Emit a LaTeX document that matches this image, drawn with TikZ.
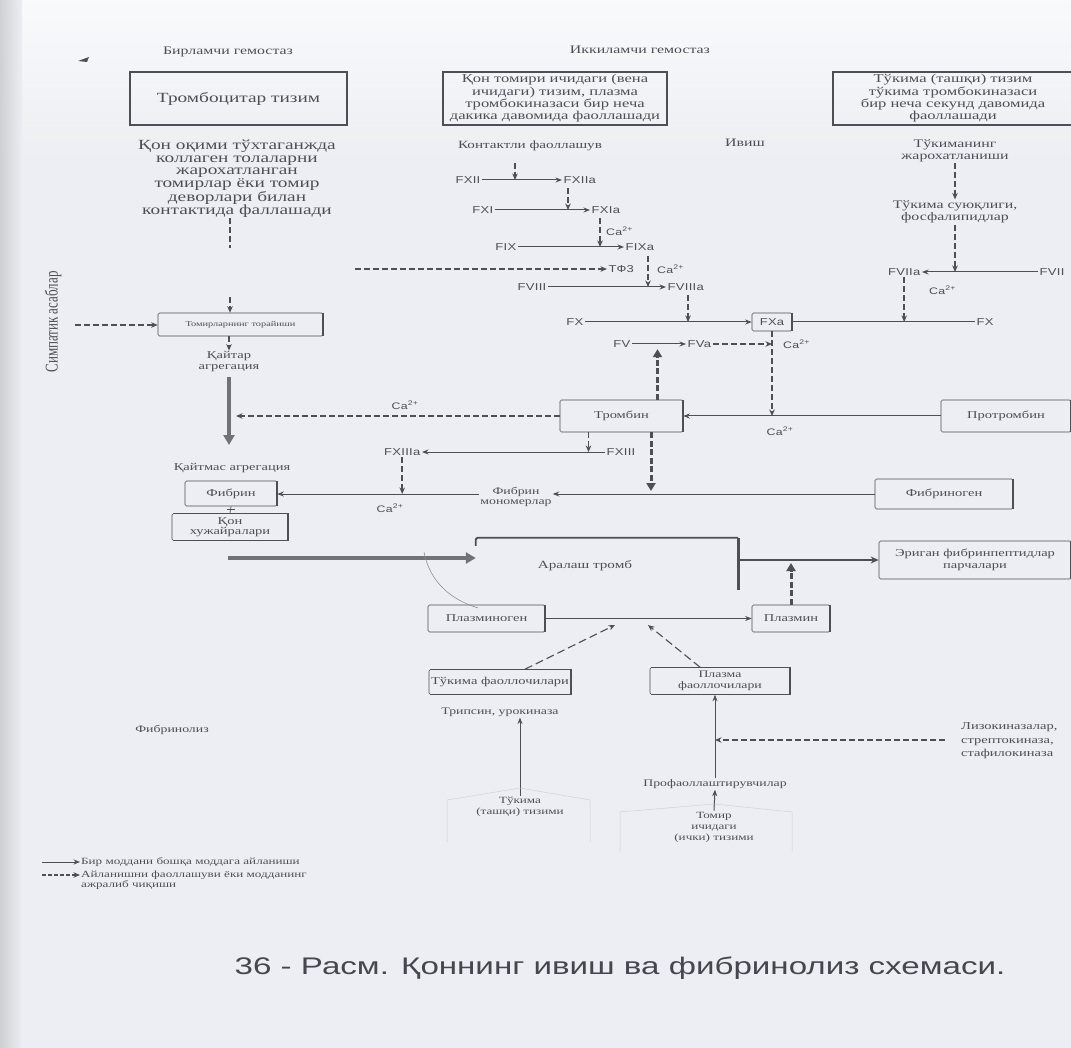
\documentclass[tikz,border=0pt]{standalone}
\usepackage{fontspec}
\usepackage{graphicx}
\usetikzlibrary{arrows.meta}
\newfontfamily\sr[FakeStretch=1.38]{Liberation Serif}
\newfontfamily\srn{Liberation Serif}
\newfontfamily\ssf[FakeStretch=1.3,LetterSpace=3]{Liberation Sans}
\newfontfamily\capf[FakeStretch=1.38]{Liberation Sans}
\definecolor{bg}{RGB}{236,238,243}
\definecolor{tc}{RGB}{78,78,86}
\definecolor{lc}{RGB}{78,78,86}
\definecolor{fc}{RGB}{208,209,216}
\newcommand{\fsz}[2]{\fontsize{#1}{#2}\selectfont}
\newcommand{\cax}{Ca\textsuperscript{2+}}
\tikzset{
  txt/.style={text=tc, inner sep=1pt, align=center},
  fl/.style={text=tc, font=\ssf\fsz{10}{11}, inner sep=1.5pt},
  cal/.style={text=tc, font=\ssf\fsz{9.5}{10}, inner sep=1pt},
  bigbox/.style={draw=lc, line width=1.3pt, inner sep=2pt, align=center, text=tc},
  sbox/.style={draw=lc, line width=0.6pt, rounded corners=1.5pt, align=center, text=tc, inner sep=2pt, font=\sr\fsz{10.5}{11}},
  sol/.style={draw=lc, line width=1pt, -{Stealth[length=6.5pt,width=5pt]}},
  dsh/.style={draw=lc, line width=1.5pt, dash pattern=on 6pt off 3pt, -{Stealth[length=6.5pt,width=5.5pt]}},
  dln/.style={draw=lc, line width=1.5pt, dash pattern=on 6pt off 3pt},
  thd/.style={draw=lc, line width=3pt, dash pattern=on 6pt off 2.5pt, -{Triangle[length=8pt,width=9pt]}},
  bigar/.style={draw=lc!80, line width=3.5pt, -{Triangle[length=10pt,width=11pt]}},
  faint/.style={draw=fc, line width=0.5pt},
  redge/.style={draw=lc, line width=2.2pt},
}
\begin{document}
\begin{tikzpicture}[x=1pt,y=-1pt]
\useasboundingbox (0,0) rectangle (1071,1048);
\fill[bg] (0,0) rectangle (1071,1048);
\shade[top color=white!70!bg, bottom color=bg] (0,0) rectangle (1071,160);
\shade[left color=gray!30!bg, right color=bg, opacity=0.9] (0,0) rectangle (22,1048);

% headings
\node[txt, font=\sr\fsz{11.5}{13}] (h1) at (228,52) {Бирламчи гемостаз};
\node[txt, font=\sr\fsz{11.5}{13}] (h2) at (640,50) {Иккиламчи гемостаз};
\fill[lc] (78,61) -- (89,57) -- (87,62) -- cycle;

% top boxes
\node[bigbox, minimum width=217pt, minimum height=53pt, font=\sr\fsz{14}{16}] (b1) at (238.5,98.5) {Тромбоцитар тизим};
\node[bigbox, minimum width=224pt, minimum height=53pt, font=\sr\fsz{12}{12.3}] (b2) at (555,98.5) {Қон томири ичидаги (вена\\ичидаги) тизим, плазма\\тромбокиназаси бир неча\\дакика давомида фаоллашади};
\node[bigbox, minimum width=240pt, minimum height=53pt, font=\sr\fsz{12}{12.3}] (b3) at (953,98.5) {Тўкима (ташқи) тизим\\тўкима тромбокиназаси\\бир неча секунд давомида\\фаоллашади};

% left column
\node[txt, font=\sr\fsz{14}{12.4}] (lb) at (237,179) {Қон оқими тўхтаганжда\\коллаген толаларни\\жарохатланган\\томирлар ёки томир\\деворлари билан\\контактида фаллашади};
\coordinate (lv1) at (230,218);
\coordinate (lv2) at (230,248);
\draw[dln] (lv1) -- (lv2);
\node[sbox, font=\sr\fsz{7.5}{8}, minimum width=165pt, minimum height=23pt] (tt) at (240.5,324.5) {Томирларнинг торайиши};
\coordinate (lv3) at (230,297);
\draw[dsh] (lv3) -- (lv3 |- tt.north);
\node[txt, font=\srn\fsz{13}{14}, rotate=90] (sim) at (53,322) {\scalebox{1}[1.38]{Симпатик асаблар}};
\coordinate (sa) at (75,325);
\draw[dsh] (sa) -- (tt.west |- sa);
\node[txt, font=\sr\fsz{10.5}{11}] (qa) at (229,362) {Қайтар\\агрегация};
\draw[dsh] (tt.south -| qa) -- (qa.north);
\coordinate (kb) at (229,445);
\draw[bigar] ([yshift=-4pt]qa.south) -- (kb);
\node[txt, font=\sr\fsz{10.5}{11}] (qm) at (232,468) {Қайтмас агрегация};

% contact activation
\node[txt, font=\sr\fsz{11}{12}] (kf) at (530,146) {Контактли фаоллашув};
\node[txt, font=\sr\fsz{11.5}{12}] (iv) at (745,143) {Ивиш};
\node[fl, anchor=east] (fxii) at (482,180) {FXII};
\node[fl, anchor=west] (fxiia) at (562,180) {FXIIa};
\draw[sol] (fxii.east) -- (fxiia.west);
\coordinate (c1) at (515,163);
\draw[dsh] (c1) -- (c1 |- fxii);
\node[fl, anchor=east] (fxi) at (495,210) {FXI};
\node[fl, anchor=west] (fxia) at (590,210) {FXIa};
\draw[sol] (fxi.east) -- (fxia.west);
\coordinate (c2) at (568,188);
\draw[dsh] (c2) -- (c2 |- fxi);
\node[fl, anchor=east] (fix) at (518,247) {FIX};
\node[fl, anchor=west] (fixa) at (624,247) {FIXa};
\draw[sol] (fix.east) -- (fixa.west);
\coordinate (c3) at (600,218);
\draw[dsh] (c3) -- (c3 |- fix);
\node[cal, anchor=west] (ca1) at (605,231) {\cax};
\node[fl, anchor=west] (tf3) at (607,269) {ТФ3};
\coordinate (tfs) at (355,269);
\draw[dsh] (tfs) -- (tf3.west);
\node[cal, anchor=west] (ca2) at (656,269) {\cax};
\node[fl, anchor=east] (fviii) at (548,287) {FVIII};
\node[fl, anchor=west] (fviiia) at (666,287) {FVIIIa};
\draw[sol] (fviii.east) -- (fviiia.west);
\coordinate (c4) at (648,256);
\draw[dsh] (c4) -- (c4 |- fviii);
\node[fl, anchor=east] (fx) at (585,322) {FX};
\node[sbox, font=\ssf\fsz{10}{11}, minimum width=40pt, minimum height=18pt] (fxa) at (772,322) {FXa};
\node[fl, anchor=west] (fx2) at (975,322) {FX};
\draw[sol] (fx.east) -- (fxa.west);
\draw[draw=lc, line width=1pt] (fxa.east) -- (fx2.west);
\coordinate (c5) at (688,295);
\draw[dsh] (c5) -- (c5 |- fx);

% tissue pathway
\node[txt, font=\sr\fsz{11.5}{12}] (tj) at (955,151) {Тўкиманинг\\жарохатланиши};
\node[txt, font=\sr\fsz{11.5}{12.5}] (ts) at (955,212) {Тўкима суюқлиги,\\фосфалипидлар};
\draw[dsh] (tj.south) -- (ts.north);
\node[fl, anchor=east] (fviia) at (922,272) {FVIIa};
\node[fl, anchor=west] (fvii) at (1038,272) {FVII};
\draw[sol] (fvii.west) -- (fviia.east);
\draw[dsh] (ts.south) -- (ts.south |- fviia);
\draw[dsh] (fviia.south) -- (fviia.south |- fx2);
\node[cal, anchor=west] (ca5) at (928,290) {\cax};

% thrombin
\node[sbox, minimum width=123pt, minimum height=32pt] (tromb) at (621.5,416) {Тромбин};
\node[sbox, minimum width=130pt, minimum height=32pt] (prot) at (1006,416) {Протромбин};
\draw[sol] (prot.west) -- (tromb.east);
\node[cal] (ca7) at (780,431) {\cax};
\node[fl, anchor=east] (fv) at (632,344) {FV};
\node[fl, anchor=west] (fva) at (686,344) {FVa};
\draw[sol] (fv.east) -- (fva.west);
\draw[dsh] (fva.east) -- (fva.east -| fxa.south);
\draw[dsh] (fxa.south) -- (fxa.south |- tromb.east);
\node[cal, anchor=west] (ca6) at (782,344) {\cax};
\coordinate (tu1) at ([xshift=36pt]tromb.north);
\draw[thd] (tu1) -- (tu1 |- fva.south);
\coordinate (kl) at (236,416);
\draw[dsh] (tromb.west) -- (kl);
\node[cal] (ca8) at (405,405) {\cax};

% FXIII and fibrin
\node[fl, anchor=west] (fxiii) at (605,452) {FXIII};
\node[fl, anchor=east] (fxiiia) at (422,452) {FXIIIa};
\draw[sol] (fxiii.west) -- (fxiiia.east);
\coordinate (td1) at ([xshift=-33pt]tromb.south);
\draw[dsh] (td1) -- (td1 |- fxiii);
\coordinate (td2) at ([xshift=29.5pt]tromb.south);
\coordinate (td3) at (651,491);
\draw[thd] (td2) -- (td3);
\node[txt, font=\sr\fsz{10}{10.5}] (mono) at (516,497) {Фибрин\\мономерлар};
\node[sbox, minimum width=138pt, minimum height=30pt] (fibg) at (944,494) {Фибриноген};
\draw[sol] (fibg.west) -- (fibg.west -| mono.east);
\node[sbox, minimum width=92pt, minimum height=25pt] (fibr) at (231,493.5) {Фибрин};
\draw[sol] (fibg.west -| mono.west) -- (fibg.west -| fibr.east);
\draw[dsh] (fxiiia.south) -- (fxiiia.south |- fibg.west);
\node[cal] (ca9) at (390,508) {\cax};
\node[sbox, minimum width=116pt, minimum height=27pt, font=\sr\fsz{10.5}{10}] (qon) at (230,527) {Қон\\хужайралари};
\draw[lc, line width=0.7pt] (fibr.south) -- (qon.north);
\coordinate (fq) at (231,509);
\draw[lc, line width=0.7pt] ([xshift=-4pt]fq) -- ([xshift=4pt]fq);

% clot
\node[minimum width=262pt, minimum height=52pt, inner sep=0pt] (arr) at (607,564) {};
\node[txt, font=\sr\fsz{11}{12}] (arrt) at (585,566) {Аралаш тромб};
\draw[lc, line width=1.8pt, rounded corners=2pt] ([yshift=-8pt]arr.north west) -- (arr.north west) -- (arr.north east);
\draw[lc, line width=3pt] (arr.north east) -- (arr.south east);
\coordinate (ba) at (228,558);
\draw[bigar] (ba) -- (ba -| arr.west);
\node[sbox, font=\sr\fsz{10.5}{12}, minimum width=192pt, minimum height=38pt] (eri) at (975,560) {Эриган фибринпептидлар\\парчалари};
\draw[draw=lc, line width=1.8pt, -{Stealth[length=8pt,width=7pt]}] (arr.east |- eri.west) -- (eri.west);

% fibrinolysis
\node[sbox, minimum width=117pt, minimum height=27pt] (plg) at (486.5,618.5) {Плазминоген};
\node[sbox, minimum width=78pt, minimum height=27pt] (plm) at (791,618.5) {Плазмин};
\draw[sol] (plg.east) -- (plm.west);
\draw[thd, shorten >=3pt] (plm.north) -- (plm.north |- eri.west);
\coordinate (cv1) at (424,552);
\coordinate (cv2) at (478,608);
\draw[lc!70, line width=0.5pt] (cv1) .. controls (430,583) and (452,600) .. (cv2);
\node[sbox, minimum width=136pt, minimum height=25pt] (tfa) at (500,682) {Тўкима фаоллочилари};
\node[sbox, minimum width=140pt, minimum height=27pt, font=\sr\fsz{10}{10.5}] (pfa) at (720,681) {Плазма\\фаоллочилари};
\coordinate (j1) at (615,625);
\coordinate (j2) at (648,625);
\draw[dsh, dash pattern=on 8pt off 4pt, line width=1.1pt] ([xshift=25pt]tfa.north) -- (j1);
\draw[dsh, dash pattern=on 8pt off 4pt, line width=1.1pt] ([xshift=-20pt]pfa.north) -- (j2);
\node[txt, font=\sr\fsz{10}{10}] (trip) at (500,712) {Трипсин, урокиназа};
\node[txt, font=\sr\fsz{9.5}{11}] (tts) at (520,807) {Тўкима\\(ташқи) тизими};
\draw[sol] (tts.north) -- (tts.north |- trip.south);
\draw[faint] (447,842) -- (447,800) -- (520,788) -- (590,800) -- (590,842);
\node[txt, font=\sr\fsz{10}{10}] (prof) at (715,784) {Профаоллаштирувчилар};
\draw[sol] (prof.north) -- (prof.north |- pfa.south);
\coordinate (lz) at (945,740);
\draw[dsh] (lz) -- (lz -| prof.north);
\node[txt, font=\sr\fsz{10.5}{13.5}, align=left, anchor=west] (liz) at (960,741) {Лизокиназалар,\\стрептокиназа,\\стафилокиназа};
\node[txt, font=\sr\fsz{9.5}{11}] (tom) at (714,827) {Томир\\ичидаги\\(ички) тизими};
\draw[sol] (tom.north) -- (prof.south);
\draw[faint] (620,852) -- (620,812) -- (714,804) -- (792,812) -- (792,852);
\node[txt, font=\sr\fsz{10}{10}] (fbl) at (172,730) {Фибринолиз};

% legend
\coordinate (l1) at (42,862);
\node[txt, anchor=west, font=\sr\fsz{9.5}{10}] (lg1) at (80,862) {Бир моддани бошқа моддага айланиши};
\draw[sol] (l1) -- (lg1.west);
\coordinate (l2) at (42,875);
\node[txt, anchor=west, align=left, font=\sr\fsz{9.5}{10}] (lg2) at (80,880) {Айланишни фаоллашуви ёки модданинг\\ажралиб чиқиши};
\draw[dsh, dash pattern=on 4pt off 2pt] (l2) -- (l2 -| lg2.west);

% caption
\node[text=tc!90!black, font=\capf\fsz{24}{26}] (cap) at (620,968) {36 - Расм. Қоннинг ивиш ва фибринолиз схемаси.};

% thick right edges of small boxes
\foreach \n in {tt,tromb,prot,fibr,qon,fibg,plg,plm,tfa,pfa,eri,fxa}
  \draw[redge] (\n.north east) -- (\n.south east);
\end{tikzpicture}
\end{document}
